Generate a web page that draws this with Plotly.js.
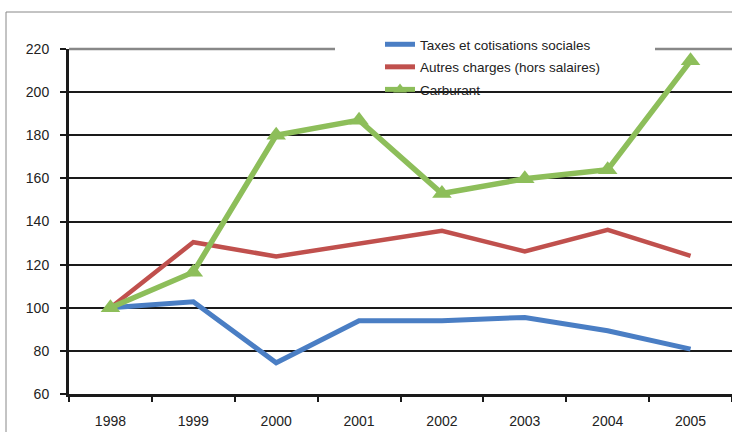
<!DOCTYPE html>
<html>
<head>
<meta charset="utf-8">
<script src="https://cdn.plot.ly/plotly-3.0.1.min.js"></script>
<style>html,body{margin:0;padding:0;background:#fff;}#chart{width:732px;height:432px;}</style>
</head>
<body>
<div id="chart"></div>
<script>
var years = ['1998','1999','2000','2001','2002','2003','2004','2005'];
var taxes = [100, 102.8, 74.5, 94, 94, 95.5, 89.3, 80.8];
var autres = [100, 130.4, 123.8, 129.6, 135.7, 126.1, 136.1, 124.1];
var carburant = [100, 116.5, 180, 187, 153, 159.8, 164, 214.5];
var yTicks = [60, 80, 100, 120, 140, 160, 180, 200, 220];

var traces = [
  {x: years, y: taxes, name: 'Taxes et cotisations sociales', type: 'scatter', mode: 'lines',
   line: {color: '#4A7EC4', width: 5}, legendgroup: 'a'},
  {x: years, y: autres, name: 'Autres charges (hors salaires)', type: 'scatter', mode: 'lines',
   line: {color: '#C0504D', width: 4.5}, legendgroup: 'b'},
  {x: years, y: carburant, name: 'Carburant', type: 'scatter', mode: 'lines+markers',
   line: {color: '#8DBE5A', width: 5.5},
   marker: {symbol: 'triangle-up', size: 17, color: '#8DBE5A'}, legendgroup: 'c'}
];

var L = 69, R = 732, T = 49, B = 394;
var pw = R - L, ph = B - T;
function px(x){ return (x - L) / pw; }
function py(y){ return (B - y) / ph; }

var layout = {
  width: 732, height: 432,
  margin: {l: L, r: 0, t: T, b: 432 - B, pad: 0},
  paper_bgcolor: '#fff', plot_bgcolor: '#fff',
  font: {family: '"Liberation Sans", Arial, sans-serif', size: 13, color: '#222'},
  showlegend: true,
  legend: {x: px(380), y: py(29), xanchor: 'left', yanchor: 'top',
           bgcolor: 'rgba(0,0,0,0)', borderwidth: 0, tracegroupgap: 2, itemsizing: 'constant',
           font: {size: 13.5, color: '#222'}},
  xaxis: {type: 'category', range: [-0.5, 7.5], showgrid: false, zeroline: false,
          showline: true, linecolor: '#1a1a1a', linewidth: 3,
          ticks: 'outside', tickson: 'boundaries', ticklen: 5, tickwidth: 2, tickcolor: '#1a1a1a',
          ticklabelstandoff: 12, tickfont: {size: 14, color: '#222'}, fixedrange: true},
  yaxis: {range: [60, 220], tickvals: yTicks, ticktext: yTicks.map(String),
          showgrid: true, gridcolor: '#1a1a1a', gridwidth: 2, zeroline: false,
          showline: true, linecolor: '#1a1a1a', linewidth: 3,
          ticks: 'outside', ticklen: 6, tickwidth: 2, tickcolor: '#1a1a1a',
          ticklabelstandoff: 8, tickfont: {size: 14, color: '#222'}, fixedrange: true},
  shapes: [
    {type: 'rect', xref: 'paper', yref: 'paper', x0: px(6), x1: px(760), y0: py(460), y1: py(12),
     line: {color: '#888', width: 1}, fillcolor: 'rgba(0,0,0,0)', layer: 'below'},
    {type: 'line', xref: 'paper', yref: 'paper', x0: 0, x1: 1, y0: 1, y1: 1,
     line: {color: '#888', width: 2.5}, layer: 'between'},
    {type: 'rect', xref: 'paper', yref: 'paper', x0: px(335), x1: px(655), y0: py(101), y1: py(38),
     line: {width: 0}, fillcolor: '#fff', layer: 'between'}
  ]
};

Plotly.newPlot('chart', traces, layout, {displayModeBar: false, staticPlot: true});
</script>
</body>
</html>
